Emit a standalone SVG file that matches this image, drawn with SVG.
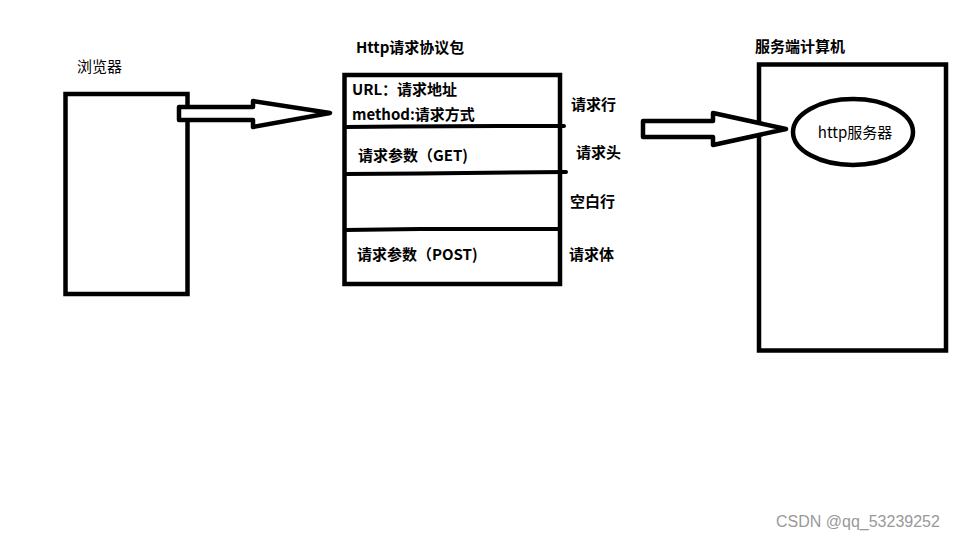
<svg xmlns="http://www.w3.org/2000/svg" width="960" height="540" viewBox="0 0 960 540">
<style>
.box{fill:#fff;stroke:#000;stroke-width:4.5}
.sep{stroke:#000;stroke-width:4;stroke-linecap:round;fill:none}
.arr{fill:#fff;stroke:#000;stroke-width:4.5;stroke-linejoin:round}
.t{font-family:"Noto Sans CJK SC","Liberation Sans",sans-serif;font-size:15px;fill:#000}
.b{font-weight:bold}
.wm{font-family:"Liberation Sans","Noto Sans CJK SC",sans-serif;font-size:16px;fill:#999}
</style>
<rect width="960" height="540" fill="#fff"/>
<g id="browser">
<rect class="box" x="65.5" y="94" width="122" height="200"/>
<text class="t" x="77" y="72">浏览器</text>
</g>
<g id="http-packet">
<text class="t b" x="356" y="53">Http请求协议包</text>
<rect class="box" x="344.5" y="75" width="215.5" height="209"/>
<path class="sep" d="M345 127 L400 126.5 L500 126 L564 126"/>
<path class="sep" d="M345 174 L420 173.5 L566 172"/>
<path class="sep" d="M345 230 L420 229 L560 229"/>
<text class="t b" x="352" y="95">URL：请求地址</text>
<text class="t b" x="352" y="120">method:请求方式</text>
<text class="t b" x="358" y="161">请求参数（GET)</text>
<text class="t b" x="357" y="260">请求参数（POST)</text>
<text class="t b" x="571" y="110">请求行</text>
<text class="t b" x="576" y="158">请求头</text>
<text class="t b" x="570" y="207">空白行</text>
<text class="t b" x="569" y="260">请求体</text>
</g>
<g id="server">
<text class="t b" x="755" y="52">服务端计算机</text>
<rect class="box" x="759" y="64.5" width="187" height="286"/>
</g>
<g id="http-server">
<ellipse class="box" cx="853" cy="132" rx="60" ry="33"/>
<text class="t" x="855" y="138" text-anchor="middle" font-size="16.5">http服务器</text>
</g>
<g id="connectors">
<polygon class="arr" points="179,107 253,107 253,101 330,113 253,127 253,120 179,120"/>
<polygon class="arr" points="643,121 713,121 713,113 786,129 713,145 713,137 643,137"/>
</g>
<text class="wm" x="776" y="527">CSDN @qq_53239252</text>
</svg>
